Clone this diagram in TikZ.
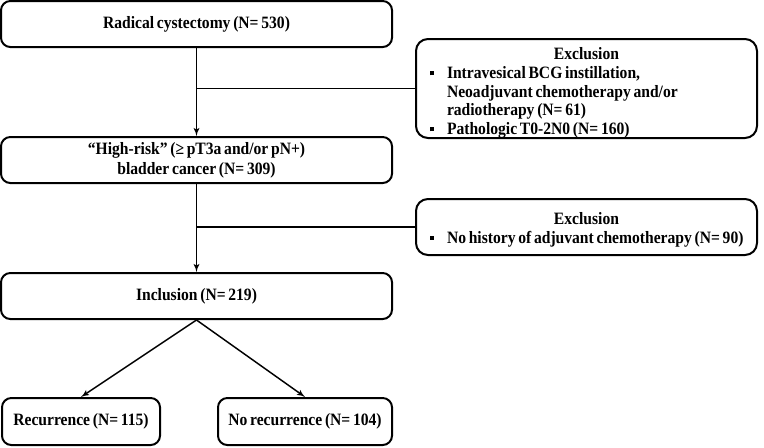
\documentclass[tikz,border=0pt]{standalone}
\usepackage{fontspec}
\setmainfont{Liberation Serif}[FakeStretch=0.9,WordSpace=0.7]
\usetikzlibrary{arrows}
\newcommand{\sqbullet}{\rule[2.5pt]{3.2pt}{3.2pt}}
\newcommand{\exitem}[1]{\par\noindent\hangindent=12.75pt\hangafter=1\makebox[12.75pt][l]{\sqbullet}#1\par}
\newcommand{\exlist}[2]{\raisebox{#1}[\height][\depth]{\parbox{234.75pt}{#2}}}
\tikzset{
    stepbox/.style={draw=black, line width=1.5pt, rounded corners=7pt, align=center,
        font=\bfseries\fontsize{13}{15}\selectfont, inner sep=0pt},
    exclbox/.style={draw=black, line width=1.5pt, rounded corners=9pt,
        font=\bfseries\fontsize{13}{14}\selectfont, inner xsep=10.5pt, inner ysep=0pt,
        minimum width=255.75pt},
    flow/.style={draw=black, line width=1.1pt, -latex'},
    branch/.style={draw=black, line width=1.1pt},
}
\begin{document}
\begin{tikzpicture}[x=0.75pt,y=-0.75pt]
    \useasboundingbox (0,0) rectangle (764,447);
    % Main column
    \node[stepbox, minimum width=293.25pt, minimum height=34.5pt] (rc) at (196.5,24)
        {Radical cystectomy (N= 530)};
    \node[stepbox, minimum width=293.25pt, minimum height=34.5pt] (hr) at (196.5,160)
        {“High-risk” (≥ pT3a and/or pN+)\\ bladder cancer (N= 309)};
    \node[stepbox, minimum width=293.25pt, minimum height=34.5pt] (inc) at (196.5,296)
        {Inclusion (N= 219)};
    % Exclusion boxes
    \node[exclbox, minimum height=74.25pt] (ex1) at (586.5,88.5) {\exlist{-3.5pt}{%
        {\centering Exclusion\par}\raggedright
        \exitem{Intravesical BCG instillation,\newline Neoadjuvant chemotherapy and/or\newline radiotherapy (N= 61)}
        \exitem{Pathologic T0-2N0 (N= 160)}}};
    \node[exclbox, minimum height=42pt] (ex2) at (586.5,227) {\exlist{-2pt}{%
        {\centering Exclusion\par}\raggedright
        \exitem{\mbox{No history of adjuvant chemotherapy (N= 90)}}}};
    % Outcome boxes
    \node[stepbox, minimum width=118.5pt, minimum height=35.25pt] (rec) at (81,421.5)
        {Recurrence (N= 115)};
    \node[stepbox, minimum width=130.5pt, minimum height=35.25pt] (norec) at (305,421.5)
        {No recurrence (N= 104)};
    % Connectors
    \coordinate (j1) at (rc.south |- ex1.west);
    \coordinate (j2) at (hr.south |- ex2.west);
    \draw[flow] (rc.south) -- (hr.north);
    \draw[branch] (j1) -- (ex1.west);
    \draw[flow] (hr.south) -- (inc.north);
    \draw[branch] (j2) -- (ex2.west);
    \draw[flow] (inc.south) -- (rec.north);
    \draw[flow] (inc.south) -- (norec.north);
\end{tikzpicture}
\end{document}
